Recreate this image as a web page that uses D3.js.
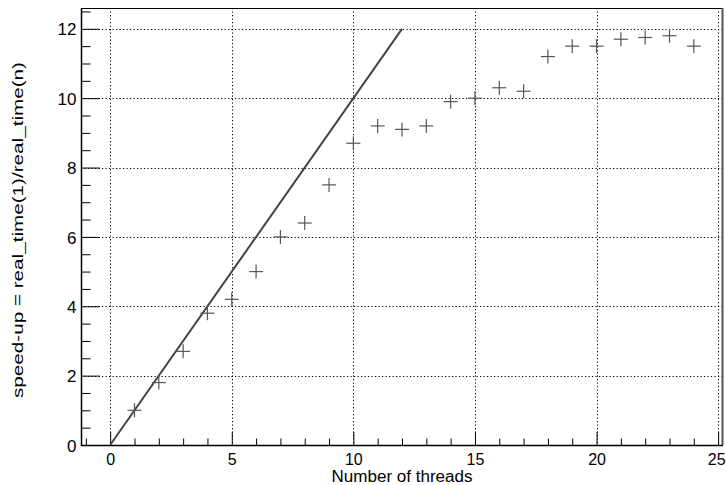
<!DOCTYPE html>
<html>
<head>
<meta charset="utf-8">
<script src="https://cdn.jsdelivr.net/npm/d3@7"></script>
<style>
  html, body { margin: 0; padding: 0; background: #fff; }
  svg { display: block; }
  text { font-family: "Liberation Sans", Arial, Helvetica, sans-serif; fill: #000; }
</style>
</head>
<body>
<script>
// ---- data ----
const threads = [1,2,3,4,5,6,7,8,9,10,11,12,13,14,15,16,17,18,19,20,21,22,23,24];
const speedup = [1.0,1.8,2.7,3.8,4.2,5.0,6.0,6.4,7.5,8.7,9.2,9.1,9.2,9.9,10.0,10.3,10.2,11.2,11.5,11.5,11.7,11.75,11.8,11.5];
const idealX = [0, 12];
const idealY = [0, 12];
const xTicks = [0,5,10,15,20,25];
const yTicks = [0,2,4,6,8,10,12];
const xTitle = "Number of threads";
const yTitle = "speed-up = real_time(1)/real_time(n)";

// ---- layout ----
const W = 726, H = 485;
const L = 81, R = 723, T = 8, B = 445;

const svg = d3.select("body").append("svg").attr("width", W).attr("height", H);

const x = d3.scaleLinear().domain([-1.2, 25.2]).range([L, R]);
const y = d3.scaleLinear().domain([0, 12.6]).range([B, T]);

// grid
const grid = svg.append("g").attr("stroke", "#000").attr("stroke-width", 1)
  .attr("stroke-dasharray", "1.2,2.3").attr("fill", "none");
xTicks.forEach(v => {
  const px = Math.round(x(v)) + 0.5;
  grid.append("line").attr("x1", px).attr("x2", px).attr("y1", T).attr("y2", B);
});
yTicks.forEach(v => {
  const py = Math.round(y(v)) + 0.5;
  grid.append("line").attr("x1", L).attr("x2", R).attr("y1", py).attr("y2", py);
});

// x axis
const xMinor = d3.range(-1, 26, 1);
const xAxis = d3.axisBottom(x).tickValues(xTicks).tickSize(-13).tickSizeOuter(0)
  .tickFormat(d3.format("d"));
const gx = svg.append("g").attr("transform", `translate(0,${B})`).call(xAxis);
gx.select(".domain").remove();
gx.selectAll(".tick line").attr("stroke", "#000");
gx.selectAll(".tick text").attr("font-size", 16).attr("fill", "#000").attr("dy", 0).attr("y", 19.5)
  .attr("dx", d => d === 25 ? -2 : 0);
const gxm = svg.append("g").attr("transform", `translate(0,${B})`)
  .call(d3.axisBottom(x).tickValues(xMinor.filter(v => v % 5 !== 0)).tickSize(-6.5).tickSizeOuter(0).tickFormat(""));
gxm.select(".domain").remove();
gxm.selectAll(".tick line").attr("stroke", "#000");

// y axis
const yMinor = d3.range(0, 12.51, 0.5).filter(v => Math.abs(v % 2) > 1e-9);
const yAxis = d3.axisLeft(y).tickValues(yTicks).tickSize(-19).tickSizeOuter(0)
  .tickFormat(d3.format("d"));
const gy = svg.append("g").attr("transform", `translate(${L},0)`).call(yAxis);
gy.select(".domain").remove();
gy.selectAll(".tick line").attr("stroke", "#000");
gy.selectAll(".tick text").attr("font-size", 17).attr("fill", "#000").attr("x", -4.5).attr("dy", "0.36em");
const gym = svg.append("g").attr("transform", `translate(${L},0)`)
  .call(d3.axisLeft(y).tickValues(yMinor).tickSize(-9.5).tickSizeOuter(0).tickFormat(""));
gym.select(".domain").remove();
gym.selectAll(".tick line").attr("stroke", "#000");

// frame
svg.append("rect").attr("x", L + 0.5).attr("y", T + 0.5).attr("width", R - L - 1).attr("height", B - T)
  .attr("fill", "none").attr("stroke", "#000").attr("stroke-width", 1);
svg.append("line").attr("x1", L + 0.5).attr("x2", L + 0.5).attr("y1", T).attr("y2", B + 1)
  .attr("stroke", "#000").attr("stroke-width", 1.5);
svg.append("line").attr("x1", L).attr("x2", R).attr("y1", B + 0.5).attr("y2", B + 0.5)
  .attr("stroke", "#000").attr("stroke-width", 1.5);
svg.append("line").attr("x1", R - 0.5).attr("x2", R - 0.5).attr("y1", T).attr("y2", B)
  .attr("stroke", "#555").attr("stroke-width", 2);

// ideal line
const line = d3.line().x(d => x(d[0])).y(d => y(d[1]));
svg.append("path").datum(d3.zip(idealX, idealY)).attr("d", line)
  .attr("fill", "none").attr("stroke", "#444").attr("stroke-width", 2);

// markers
const s = 7;
const mk = svg.append("g").attr("stroke", "#555").attr("stroke-width", 1.2);
threads.forEach((t, i) => {
  const cx = x(t), cy = y(speedup[i]);
  mk.append("line").attr("x1", cx - s).attr("x2", cx + s).attr("y1", cy).attr("y2", cy);
  mk.append("line").attr("x1", cx).attr("x2", cx).attr("y1", cy - s).attr("y2", cy + s);
});

// titles
svg.append("text").attr("x", (L + R) / 2).attr("y", 481.5).attr("text-anchor", "middle")
  .attr("font-size", 16).attr("fill", "#000")
  .attr("textLength", 141).attr("lengthAdjust", "spacingAndGlyphs").text(xTitle);
svg.append("text").attr("transform", `translate(23,230) rotate(-90)`).attr("text-anchor", "middle")
  .attr("font-size", 15).attr("fill", "#000")
  .attr("textLength", 336).attr("lengthAdjust", "spacingAndGlyphs").text(yTitle);
</script>
</body>
</html>
